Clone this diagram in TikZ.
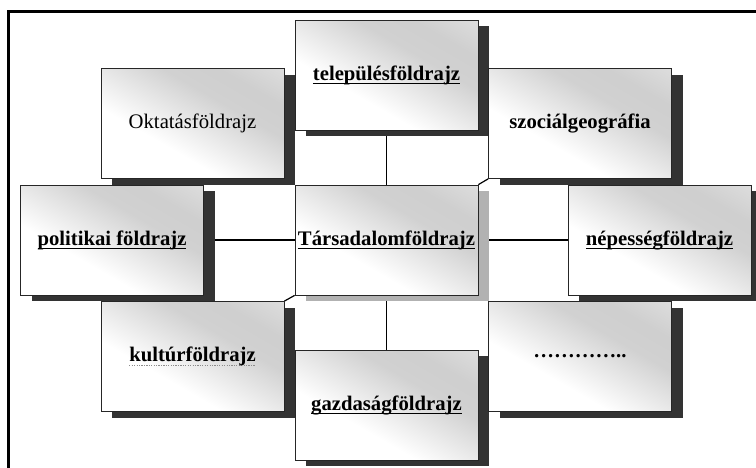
\documentclass[tikz,border=0pt]{standalone}
\usepackage{fontspec}
\setmainfont{Liberation Serif}
\usetikzlibrary{shadows,backgrounds}

% word underline at a fixed depth, and a grey dotted spell-check line
\newcommand{\ulword}[1]{\setbox0\hbox{#1}\rlap{\vrule height -2.8pt depth 4pt width \wd0}\box0}
\newcommand{\spellwave}[1]{\setbox0\hbox{#1}\rlap{\lower4.5pt\hbox to \wd0{\color{black!45}\xleaders\hbox{\rule{1.2pt}{1pt}\kern1.2pt}\hfill}}\box0}

\pgfdeclareverticalshading{boxshade}{100bp}{color(0bp)=(white); color(38bp)=(white); color(62bp)=(black!18); color(72bp)=(black!19); color(100bp)=(black!6)}

\tikzset{
  boxbase/.style={draw=black!85, line width=0.8pt, minimum width=183pt, minimum height=110pt,
    inner sep=0pt, shading=boxshade, shading angle=-30,
    font=\fontsize{20.7}{24}\selectfont\bfseries},
  topic/.style={boxbase, drop shadow={shadow xshift=11pt, shadow yshift=-6pt, fill=black!80, opacity=1}},
  hub/.style={boxbase, drop shadow={shadow xshift=11pt, shadow yshift=-6pt, fill=black!30, opacity=1}},
  link/.style={line width=1.8pt, black}
}

\begin{document}
\begin{tikzpicture}[x=1pt, y=-1pt]
%\draw[help lines, step=50] (0,0) grid (756,467);
\useasboundingbox (0,0) rectangle (756,467);

\node[topic, font=\fontsize{20.7}{24}\selectfont] (okt) at (192.5,123.5) {Oktatásföldrajz};
\node[topic] (tel) at (386.5,75) {\ulword{településföldrajz}};
\node[topic] (szoc) at (580,123.5) {szociálgeográfia};
\node[topic] (pol) at (112,240) {\ulword{politikai földrajz}};
\node[hub] (tars) at (386.5,240) {\ulword{Társadalomföldrajz}};
\node[topic] (nep) at (659.5,240) {\ulword{népességföldrajz}};
\node[topic] (kult) at (192.5,356.5) {\spellwave{kultúrföldrajz}};
\node[topic] (gazd) at (386.5,405) {\ulword{gazdaságföldrajz}};
\node[topic] (more) at (580,356.5) {…………..};

\begin{scope}[on background layer]
\draw[link] (tel) -- (tars);
\draw[link] (tars) -- (gazd);
\draw[link] (pol) -- (tars);
\draw[link] (tars) -- (nep);
\draw[link, line width=1.2pt] (szoc.south west) -- (tars.north east);
\draw[link, line width=1.2pt] (tars.south west) -- (kult.north east);
\end{scope}

% frame
\draw[line width=3pt] (8.5,475) -- (8.5,11) -- (765,11);
\end{tikzpicture}
\end{document}
